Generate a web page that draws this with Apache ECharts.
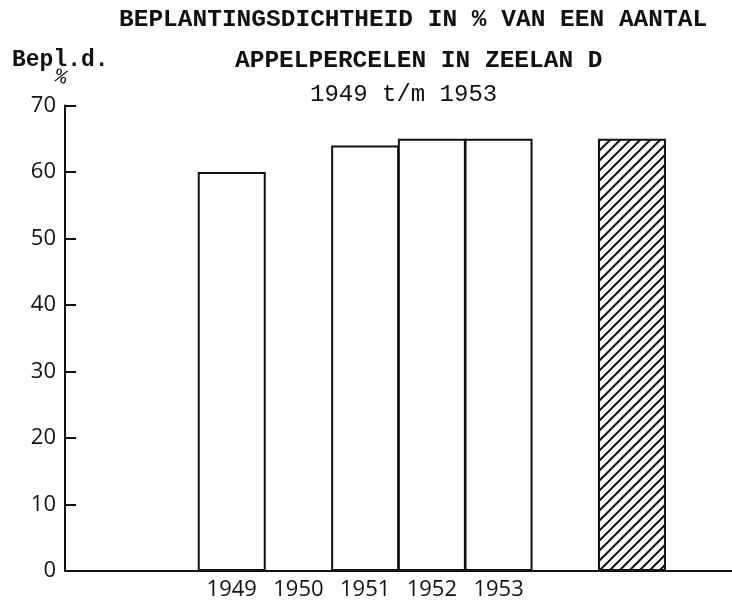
<!DOCTYPE html>
<html>
<head>
<meta charset="utf-8">
<script src="https://cdn.jsdelivr.net/npm/echarts@6/dist/echarts.min.js"></script>
<style>
html,body{margin:0;padding:0;background:#fff;}
#chart{width:732px;height:606px;}
</style>
</head>
<body>
<div id="chart"></div>
<script>
// ---- data ----
const categories = ['', '', '1949', '1950', '1951', '1952', '1953', '', '', ''];
const yearValues = [null, null, 60, null, 64, 65, 65, null, null, null];
const hatchedValues = [null, null, null, null, null, null, null, null, 65, null];
const yTicks = [0, 10, 20, 30, 40, 50, 60, 70];
const titleLine1 = 'BEPLANTINGSDICHTHEID IN % VAN EEN AANTAL';
const titleLine2 = 'APPELPERCELEN IN ZEELAN D';
const titleLine3 = '1949 t/m 1953';
const yAxisName = 'Bepl.d.';
const yAxisUnit = '%';

// hatch pattern
const tile = document.createElement('canvas');
tile.width = 10; tile.height = 10;
const c = tile.getContext('2d');
c.fillStyle = '#fff'; c.fillRect(0, 0, 10, 10);
c.strokeStyle = '#111'; c.lineWidth = 2;
c.beginPath();
c.moveTo(-2, 12); c.lineTo(12, -2);
c.moveTo(-7, 7); c.lineTo(7, -7);
c.moveTo(3, 17); c.lineTo(17, 3);
c.stroke();

const chart = echarts.init(document.getElementById('chart'), null, {renderer: 'canvas'});
const mono = '"Liberation Mono", "DejaVu Sans Mono", monospace';
const sans = '"Open Sans", "DejaVu Sans", sans-serif';

chart.setOption({
  backgroundColor: '#fff',
  animation: false,
  grid: {left: 65, top: 105.5, width: 670, bottom: 35, containLabel: false},
  xAxis: {
    type: 'category',
    data: categories,
    boundaryGap: true,
    axisLine: {show: true, lineStyle: {color: '#111', width: 2}},
    axisTick: {show: false},
    axisLabel: {interval: 0, color: '#111', fontFamily: sans, fontSize: 22, margin: 8}
  },
  yAxis: {
    type: 'value',
    min: yTicks[0],
    max: yTicks[yTicks.length - 1],
    interval: 10,
    splitLine: {show: false},
    axisLine: {show: true, lineStyle: {color: '#111', width: 2}},
    axisTick: {show: true, inside: true, length: 11, lineStyle: {color: '#111', width: 2}},
    axisLabel: {color: '#111', fontFamily: sans, fontSize: 22, margin: 9}
  },
  series: [
    {
      type: 'bar',
      data: yearValues,
      barWidth: 68,
      barGap: '-100%',
      itemStyle: {color: '#fff', borderColor: '#111', borderWidth: 2}
    },
    {
      type: 'bar',
      data: hatchedValues,
      barWidth: 68,
      barGap: '-100%',
      itemStyle: {color: {image: tile, repeat: 'repeat'}, borderColor: '#111', borderWidth: 2}
    }
  ],
  graphic: [
    {type: 'text', left: 119, top: 7, style: {text: titleLine1, font: 'bold 24.5px ' + mono, fill: '#111'}},
    {type: 'text', left: 235, top: 48, style: {text: titleLine2, font: 'bold 24.5px ' + mono, fill: '#111'}},
    {type: 'text', left: 310, top: 83, style: {text: titleLine3, font: '24px ' + mono, fill: '#111'}},
    {type: 'text', left: 12, top: 49, style: {text: yAxisName, font: 'bold 23px ' + mono, fill: '#111'}},
    {type: 'text', left: 52, top: 66, rotation: -0.3, style: {text: yAxisUnit, font: '20px ' + mono, fill: '#111'}}
  ]
});
</script>
</body>
</html>
